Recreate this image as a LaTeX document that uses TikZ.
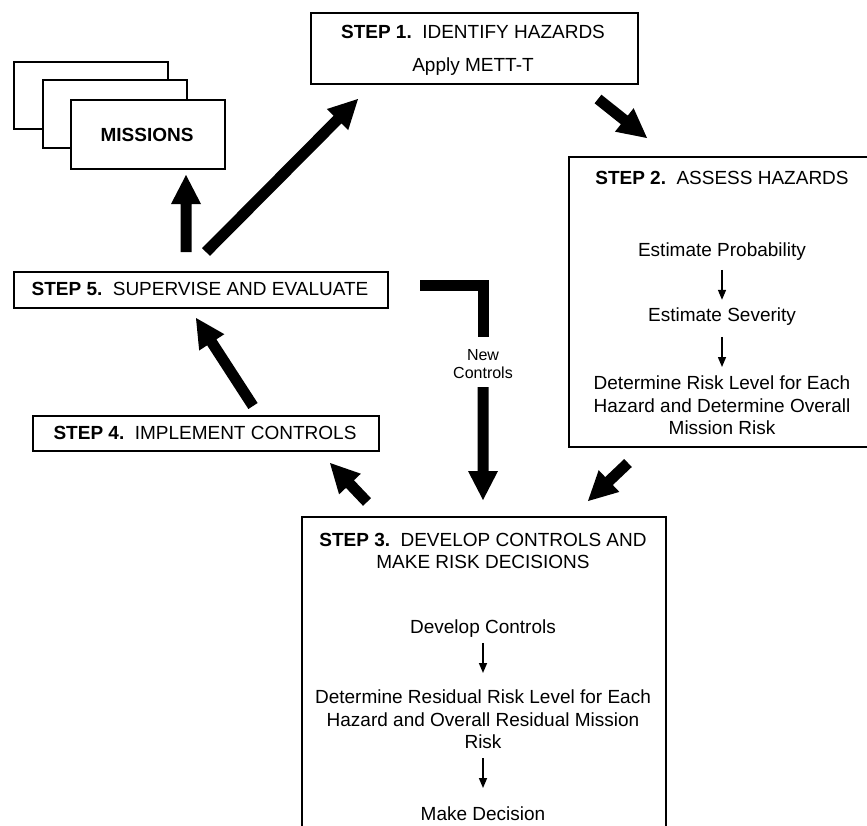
\documentclass[tikz,border=0pt]{standalone}
\usepackage{fontspec}
\setmainfont{Liberation Sans}
\usetikzlibrary{calc,arrows.meta}
\newcommand\fs{\fontsize{19pt}{22.5pt}\selectfont}
\newcommand\fss{\fontsize{16pt}{18pt}\selectfont}
\newcommand\stp[1]{\textbf{STEP #1.}\hspace{0.55em}}
% block arrow from #1 (tail) to #2 (tip)
\newcommand\blockarrow[2]{%
  \coordinate (bh) at ($(#2)!29pt!(#1)$);
  \fill ($(#1)!5.5pt!-90:(#2)$) -- ($(bh)!5.5pt!90:(#1)$) -- ($(bh)!15pt!90:(#1)$)
     -- (#2) -- ($(bh)!15pt!-90:(#1)$) -- ($(bh)!5.5pt!-90:(#1)$)
     -- ($(#1)!5.5pt!90:(#2)$) -- cycle;}
\begin{document}
\begin{tikzpicture}[x=1pt,y=-1pt,
  box/.style={draw, line width=1.5pt, fill=white, inner sep=0pt, anchor=north west},
  txt/.style={inner sep=0pt, font=\fs, anchor=base},
  mtxt/.style={inner sep=0pt, font=\fs, align=center, anchor=north},
  smallarr/.style={draw, line width=1.5pt, -{Triangle[length=10pt,width=8pt]}},
  bar/.style={line width=11pt, line join=miter}]
\useasboundingbox (0,0) rectangle (867,825);
\clip (0,0) rectangle (867,825);

% missions stack
\node[box, minimum width=154pt, minimum height=67pt] (m1) at (13,61) {};
\node[box, minimum width=144pt, minimum height=68pt] (m2) at (42,79) {};
\node[box, minimum width=154pt, minimum height=69pt] (m3) at (70,99) {};
\node[txt] (mt) at (147,141.8) {\textbf{MISSIONS}};

% step 1
\node[box, minimum width=327pt, minimum height=71pt] (s1) at (310,12) {};
\node[txt] (s1a) at (473,38.8) {\stp{1}IDENTIFY HAZARDS};
\node[txt] (s1b) at (473,71.8) {Apply METT-T};

% step 2
\node[box, minimum width=308pt, minimum height=290pt] (s2) at (568,156) {};
\node[txt] (s2a) at (722,184.8) {\stp{2}ASSESS HAZARDS};
\node[txt] (ep) at (722,256.8) {Estimate Probability};
\node[txt] (es) at (722,321.8) {Estimate Severity};
\node[mtxt] (dr) at (722,376) {Determine Risk Level for Each\\Hazard and Determine Overall\\Mission Risk};
\draw[smallarr, shorten <=9pt, shorten >=8pt] (ep.south) -- (es.north);
\draw[smallarr, shorten <=11pt, shorten >=9pt] (es.south) -- (dr.north);

% step 3
\node[box, minimum width=364pt, minimum height=340pt] (s3) at (301,516) {};
\node[mtxt] (s3a) at (483,533) {\stp{3}DEVELOP CONTROLS AND\\MAKE RISK DECISIONS};
\node[txt] (dc) at (483,633.8) {Develop Controls};
\node[mtxt] (rr) at (483,690) {Determine Residual Risk Level for Each\\Hazard and Overall Residual Mission\\Risk};
\node[txt] (md) at (483,820) {Make Decision};
\draw[smallarr, shorten <=5pt, shorten >=17pt] (dc.south) -- (rr.north);
\draw[smallarr, shorten <=9pt, shorten >=18pt] (rr.south) -- (md.north);

% step 4
\node[box, minimum width=346pt, minimum height=35pt] (s4) at (32,415) {};
\node[txt] (s4a) at (205,439.3) {\stp{4}IMPLEMENT CONTROLS};

% step 5
\node[box, minimum width=374pt, minimum height=36pt] (s5) at (13,271) {};
\node[txt] (s5a) at (200,295.8) {\stp{5}SUPERVISE AND EVALUATE};

% new controls
\node[mtxt, font=\fss] (nc) at (483,349) {New\\Controls};
\coordinate (ncA) at (420,285.5);
\coordinate (ncB) at (483,285.5);
\coordinate (ncC) at (483,337);
\draw[bar] (ncA) -- (ncB) -- (ncC);

% block arrow end points
\coordinate (a1s) at (186,252);   \coordinate (a1e) at (186,175);
\coordinate (a2s) at (206,252);   \coordinate (a2e) at (358,99);
\coordinate (a3s) at (598,99);    \coordinate (a3e) at (647,138);
\coordinate (a4s) at (628,463);   \coordinate (a4e) at (588,501);
\coordinate (a5s) at (483,387);   \coordinate (a5e) at (483,500);
\coordinate (a6s) at (367,502);   \coordinate (a6e) at (330,463);
\coordinate (a7s) at (253,406);   \coordinate (a7e) at (196,318);
\blockarrow{a1s}{a1e}
\blockarrow{a2s}{a2e}
\blockarrow{a3s}{a3e}
\blockarrow{a4s}{a4e}
\blockarrow{a5s}{a5e}
\blockarrow{a6s}{a6e}
\blockarrow{a7s}{a7e}
\end{tikzpicture}
\end{document}
